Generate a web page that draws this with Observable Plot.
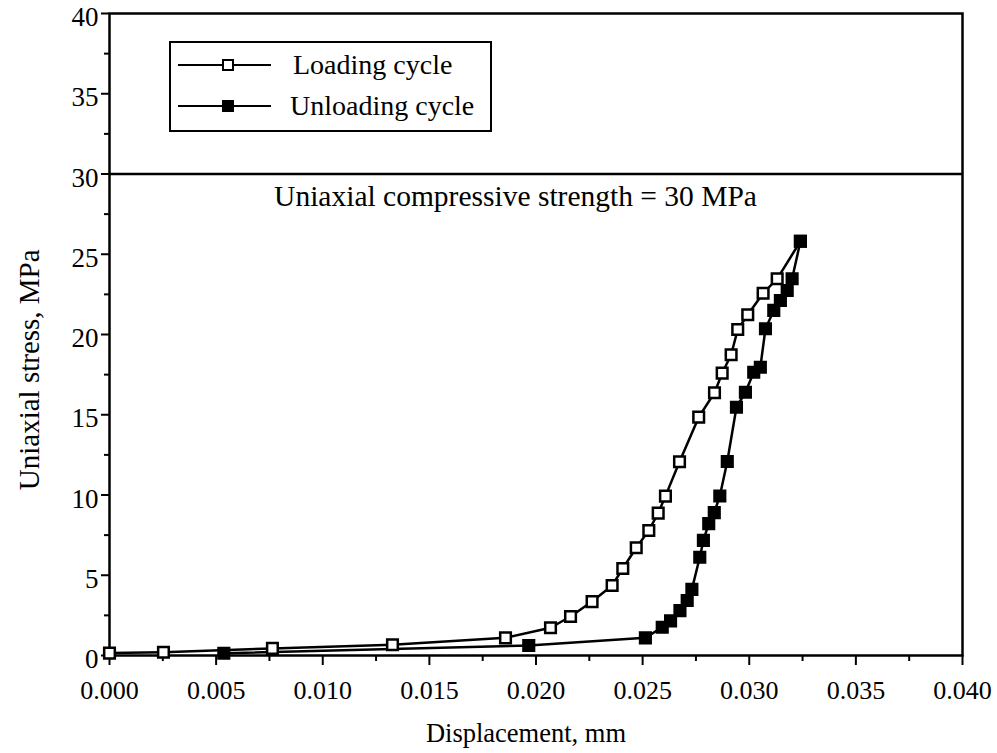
<!DOCTYPE html>
<html>
<head>
<meta charset="utf-8">
<script src="https://cdn.jsdelivr.net/npm/d3@7"></script>
<script src="https://cdn.jsdelivr.net/npm/@observablehq/plot@0.6"></script>
<style>
  body { margin: 0; background: #fff; }
  #wrap { position: relative; width: 997px; height: 753px; font-family: "Liberation Serif", "DejaVu Serif", serif; }
  #legend { position: absolute; left: 169px; top: 41px; width: 323px; height: 91px; border: 2px solid #000; background: #fff; box-sizing: border-box; }
</style>
</head>
<body>
<div id="wrap"></div>
<script>
// Loading cycle (open squares)
const loadX = [0, 0.00253, 0.00764, 0.01327, 0.01857, 0.02068, 0.02162, 0.02263, 0.02357, 0.02407, 0.0247, 0.02529, 0.02573, 0.02607, 0.02673, 0.02763, 0.02837, 0.02873, 0.02915, 0.02946, 0.02993, 0.03065, 0.03131, 0.0324];
const loadY = [0.15, 0.2, 0.44, 0.67, 1.1, 1.73, 2.43, 3.36, 4.36, 5.42, 6.71, 7.79, 8.87, 9.93, 12.07, 14.85, 16.37, 17.59, 18.74, 20.31, 21.23, 22.57, 23.47, 25.81];
// Unloading cycle (filled squares)
const unloadX = [0.0324, 0.03201, 0.03178, 0.03146, 0.03115, 0.03076, 0.03052, 0.03021, 0.02982, 0.0294, 0.02897, 0.02862, 0.02836, 0.0281, 0.02785, 0.02768, 0.02731, 0.02709, 0.02675, 0.02631, 0.02592, 0.02513, 0.01966, 0.00536];
const unloadY = [25.81, 23.47, 22.74, 22.12, 21.5, 20.36, 17.96, 17.65, 16.4, 15.47, 12.09, 9.94, 8.9, 8.22, 7.17, 6.12, 4.12, 3.43, 2.8, 2.16, 1.76, 1.1, 0.62, 0.14];
// Ticks
const xTicks = [0, 0.005, 0.010, 0.015, 0.020, 0.025, 0.030, 0.035, 0.040];
const xMinor = [0.0025, 0.0075, 0.0125, 0.0175, 0.0225, 0.0275, 0.0325, 0.0375];
const yTicks = [0, 5, 10, 15, 20, 25, 30, 35, 40];
const yMinor = [2.5, 7.5, 12.5, 17.5, 22.5, 27.5, 32.5, 37.5];
const ucs = [30];
const ucsLabel = "Uniaxial compressive strength = 30 MPa";
const seriesNames = ["Loading cycle", "Unloading cycle"];
const xLabel = "Displacement, mm";
const yLabel = "Uniaxial stress, MPa";

const load = loadX.map((x, i) => ({x, y: loadY[i]}));
const unload = unloadX.map((x, i) => ({x, y: unloadY[i]}));

const chart = Plot.plot({
  width: 997,
  height: 753,
  marginLeft: 109,
  marginRight: 35,
  marginTop: 13,
  marginBottom: 98,
  style: {fontFamily: "Liberation Serif, serif", fontSize: "26px", background: "#fff", color: "#000", overflow: "visible"},
  x: {domain: [0, 0.04]},
  y: {domain: [0, 40]},
  marks: [
    Plot.axisX({ticks: xTicks, tickFormat: d3.format(".3f"), tickSize: 10, tickPadding: 15, strokeWidth: 2, fontSize: 26, label: null}),
    Plot.axisX({ticks: xMinor, tickSize: 6, strokeWidth: 2, text: null, label: null}),
    Plot.axisY({ticks: yTicks, tickSize: 8, strokeWidth: 2, text: null, label: null}),
    Plot.axisY({ticks: yTicks, tickSize: 0, tickPadding: 11, fontSize: 27, dy: 4, label: null}),
    Plot.axisY({ticks: yMinor, tickSize: 5, strokeWidth: 2, text: null, label: null}),
    Plot.frame({stroke: "#000", strokeWidth: 2.5}),
    Plot.ruleY(ucs, {stroke: "#000", strokeWidth: 2.5}),
    Plot.text(ucs, {x: () => 0.01904, y: d => d, text: () => ucsLabel, dy: 23, fontSize: 29.5, fill: "#000"}),
    Plot.line(load, {x: "x", y: "y", stroke: "#000", strokeWidth: 2.5}),
    Plot.line(unload, {x: "x", y: "y", stroke: "#000", strokeWidth: 2.5}),
    Plot.dot(load, {x: "x", y: "y", symbol: "square", r: 6, fill: "#fff", stroke: "#000", strokeWidth: 2.5}),
    Plot.dot(unload, {x: "x", y: "y", symbol: "square", r: 6, fill: "#000", stroke: "#000", strokeWidth: 2.5}),
    Plot.text([xLabel], {frameAnchor: "bottom", textAnchor: "middle", dx: -10, dy: 86, fontSize: 26.5, fill: "#000"}),
    Plot.text([yLabel], {frameAnchor: "left", y: () => 17.8, textAnchor: "middle", rotate: -90, dx: -80, fontSize: 29, fill: "#000"})
  ]
});

const wrap = document.getElementById("wrap");
wrap.appendChild(chart);

// Legend (HTML overlay)
const legend = document.createElement("div");
legend.id = "legend";
const ns = "http://www.w3.org/2000/svg";
const lsvg = document.createElementNS(ns, "svg");
lsvg.setAttribute("width", 319);
lsvg.setAttribute("height", 87);
seriesNames.forEach((name, i) => {
  const cy = 22 + i * 41;
  const line = document.createElementNS(ns, "line");
  line.setAttribute("x1", 7); line.setAttribute("x2", 100);
  line.setAttribute("y1", cy); line.setAttribute("y2", cy);
  line.setAttribute("stroke", "#000"); line.setAttribute("stroke-width", 2);
  lsvg.appendChild(line);
  const rect = document.createElementNS(ns, "rect");
  rect.setAttribute("x", 52); rect.setAttribute("y", cy - 5);
  rect.setAttribute("width", 10); rect.setAttribute("height", 10);
  rect.setAttribute("fill", i === 0 ? "#fff" : "#000");
  rect.setAttribute("stroke", "#000"); rect.setAttribute("stroke-width", 2);
  lsvg.appendChild(rect);
  const t = document.createElementNS(ns, "text");
  t.setAttribute("x", i === 0 ? 122 : 119);
  t.setAttribute("y", cy);
  t.setAttribute("dy", "0.32em");
  t.setAttribute("font-size", 28);
  t.setAttribute("font-family", "Liberation Serif, serif");
  t.textContent = name;
  lsvg.appendChild(t);
});
legend.appendChild(lsvg);
wrap.appendChild(legend);
</script>
</body>
</html>
